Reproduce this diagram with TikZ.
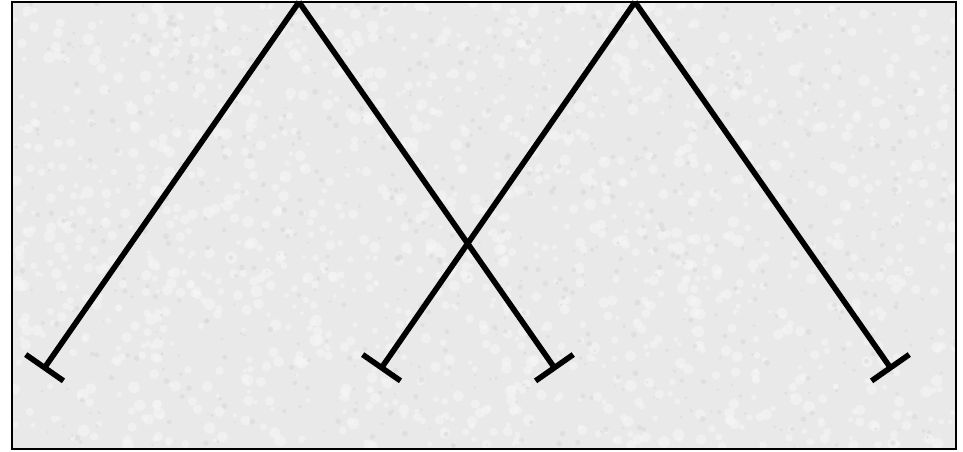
\documentclass[tikz,border=0pt]{standalone}
\usetikzlibrary{arrows.meta}
\definecolor{bgbase}{RGB}{233,233,233}
\definecolor{bglight}{RGB}{246,246,246}
\definecolor{bgdark}{RGB}{214,214,214}
\tikzset{
  leg/.style={line width=5.6pt, -{Bar[width=46pt]}},
  frame/.style={line width=2pt, draw=black},
}
\begin{document}
\begin{tikzpicture}[x=1pt,y=1pt]
\useasboundingbox (0,0) rectangle (963,451);
\fill[white] (0,0) rectangle (963,451);
\fill[bgbase] (12,2) rectangle (956,449);
\begin{scope}
\clip (13,3) rectangle (955,448);
\pgfmathsetseed{7}
\foreach \i in {1,...,1400}{
  \pgfmathsetmacro{\xx}{15+940*rnd}
  \pgfmathsetmacro{\yy}{4+444*rnd}
  \pgfmathsetmacro{\rr}{2+4*rnd}
  \fill[bglight, opacity=0.55] (\xx,\yy) circle (\rr);
}
\foreach \i in {1,...,700}{
  \pgfmathsetmacro{\xx}{15+940*rnd}
  \pgfmathsetmacro{\yy}{4+444*rnd}
  \pgfmathsetmacro{\rr}{1+2*rnd}
  \fill[bgdark, opacity=0.5] (\xx,\yy) circle (\rr);
}
\end{scope}
\draw[frame] (12,2) rectangle (956,449);
\coordinate (a1) at (299,449);
\coordinate (a2) at (635,449);
\coordinate (e1) at (43,81);
\coordinate (e2) at (556,81);
\coordinate (e3) at (380,81);
\coordinate (e4) at (892,81);
\draw[leg] (a1) -- (e1);
\draw[leg] (a1) -- (e2);
\draw[leg] (a2) -- (e3);
\draw[leg] (a2) -- (e4);
\draw[line width=2pt] (12,449) -- (956,449);
\end{tikzpicture}
\end{document}
